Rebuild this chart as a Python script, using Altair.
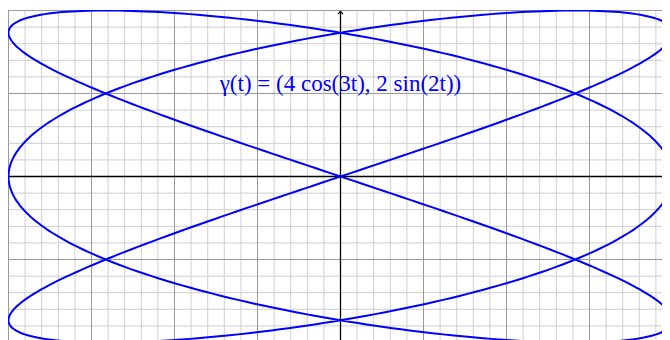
import altair as alt
import numpy as np
import pandas as pd

# Curve stated on the chart: gamma(t) = (4 cos(3t), 2 sin(2t))
t_values = np.linspace(0, 2 * np.pi, 721)
curve_x = 4 * np.cos(3 * t_values)
curve_y = 2 * np.sin(2 * t_values)

minor_x = [round(-4 + 0.2 * i, 2) for i in range(41)]
minor_y = [round(-2 + 0.2 * i, 2) for i in range(21)]
major_x = [-4, -3, -2, -1, 0, 1, 2, 3, 4]
major_y = [-2, -1, 0, 1, 2]
label_text = ["γ(t) = (4 cos(3t), 2 sin(2t))"]

W, H = 654, 334
PX = 83.0
xs = alt.Scale(domain=[-4 - 0.5 / PX, -4 + (W - 0.5) / PX], nice=False, zero=False)
ys = alt.Scale(domain=[2 + 0.5 / PX - H / PX, 2 + 0.5 / PX], nice=False, zero=False)

curve_df = pd.DataFrame({"i": np.arange(len(t_values)), "x": curve_x, "y": curve_y})

X = lambda f: alt.X(f, scale=xs, axis=None)
Y = lambda f: alt.Y(f, scale=ys, axis=None)

vminor = alt.Chart(pd.DataFrame({"x": minor_x})).mark_rule(color="#cfcfcf", strokeWidth=1, clip=True).encode(x=X("x:Q"))
hminor = alt.Chart(pd.DataFrame({"y": minor_y})).mark_rule(color="#cfcfcf", strokeWidth=1, clip=True).encode(y=Y("y:Q"))
vmajor = alt.Chart(pd.DataFrame({"x": major_x})).mark_rule(color="#9a9a9a", strokeWidth=1, clip=True).encode(x=X("x:Q"))
hmajor = alt.Chart(pd.DataFrame({"y": major_y})).mark_rule(color="#9a9a9a", strokeWidth=1, clip=True).encode(y=Y("y:Q"))

xaxis = alt.Chart(pd.DataFrame({"x": [-4], "x2": [3.96], "y": [0]})).mark_rule(color="black", strokeWidth=1.3, clip=True).encode(
    x=X("x:Q"), x2="x2:Q", y=Y("y:Q"))
yaxis = alt.Chart(pd.DataFrame({"x": [0], "y": [-2.1], "y2": [1.995]})).mark_rule(color="black", strokeWidth=1.3, clip=True).encode(
    x=X("x:Q"), y=Y("y:Q"), y2="y2:Q")

arrow_shape = "M -1 -0.9 Q -0.3 -0.25 0 0 Q -0.3 0.25 -1 0.9"
yarrow = alt.Chart(pd.DataFrame({"x": [0], "y": [1.99]})).mark_point(
    shape=arrow_shape, filled=False, stroke="black", strokeWidth=1.2, size=30, angle=270, opacity=1).encode(
    x=X("x:Q"), y=Y("y:Q"))

curve = alt.Chart(curve_df).mark_line(color="#0000ff", strokeWidth=2, clip=True).encode(
    x=X("x:Q"), y=Y("y:Q"), order="i:Q")

label = alt.Chart(pd.DataFrame({"x": [0], "y": [1.12], "t": label_text})).mark_text(
    font="Liberation Serif", fontSize=23, color="#0000ff", align="center", baseline="middle").encode(
    x=X("x:Q"), y=Y("y:Q"), text="t:N")

chart = alt.layer(vminor, hminor, vmajor, hmajor, xaxis, yaxis, yarrow, curve, label).properties(
    width=W, height=H, padding=0
).configure_view(stroke=None)

chart.save("out.html", embed_options={"renderer": "svg", "actions": False})
